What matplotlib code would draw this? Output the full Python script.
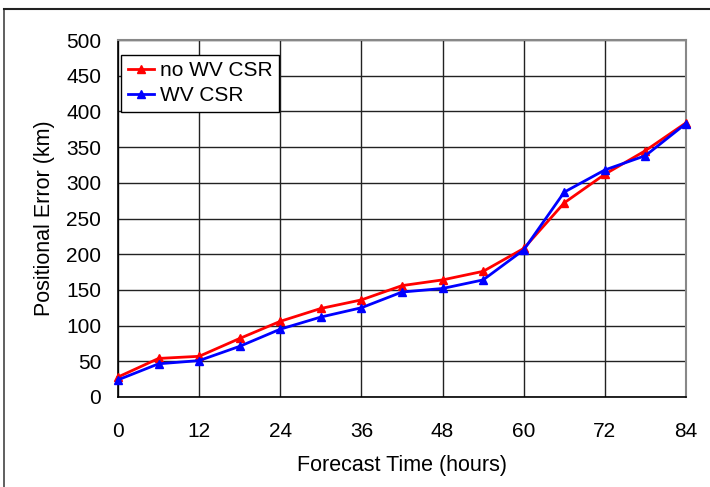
import numpy as np
import matplotlib
matplotlib.use('Agg')
import matplotlib.pyplot as plt
from matplotlib.lines import Line2D

hours = [0, 6, 12, 18, 24, 30, 36, 42, 48, 54, 60, 66, 72, 78, 84]
no_wv_csr = [28, 54, 57, 82, 106, 124, 136, 156, 164, 176, 208, 272, 312, 345, 384]
wv_csr = [24, 46.5, 51, 71, 95, 112, 125, 147, 152, 164, 206, 287, 318, 338, 383]
x_ticks = [0, 12, 24, 36, 48, 60, 72, 84]
y_ticks = [0, 50, 100, 150, 200, 250, 300, 350, 400, 450, 500]

plt.rcParams['font.family'] = ['Liberation Sans', 'DejaVu Sans']

fig = plt.figure(figsize=(7.1, 4.87), dpi=100)
ax = fig.add_axes([118/710, 1-397/487, (686-118)/710, (397-40)/487])

# outer frame lines (left and top)
fig.add_artist(Line2D([4/710, 4/710], [0, 1-9/487], transform=fig.transFigure, color='#444444', lw=1.2))
fig.add_artist(Line2D([4/710, 1], [1-9/487, 1-9/487], transform=fig.transFigure, color='#222222', lw=1.5))

ax.plot(hours, no_wv_csr, color='red', lw=2, marker='^', ms=6, label='no WV CSR', zorder=3, clip_on=False)
ax.plot(hours, wv_csr, color='blue', lw=2, marker='^', ms=6, label='WV CSR', zorder=4, clip_on=False)

ax.set_xlim(0, 84)
ax.set_ylim(0, 500)
ax.set_xticks(x_ticks)
ax.set_yticks(y_ticks)
ax.grid(True, color='#222222', lw=1)
ax.tick_params(length=0, labelsize=15)
ax.tick_params(axis='x', pad=18)
ax.tick_params(axis='y', pad=12)
for s in ['top', 'right']:
    ax.spines[s].set_color('#888888')
    ax.spines[s].set_linewidth(1.5)
for s in ['left', 'bottom']:
    ax.spines[s].set_color('black')
    ax.spines[s].set_linewidth(1.2)

ax.set_xlabel('Forecast Time (hours)', fontsize=15.5, labelpad=10)
ax.set_ylabel('Positional Error (km)', fontsize=15.5, labelpad=8)

leg = ax.legend(loc='upper left', bbox_to_anchor=(0.006, 0.958), fontsize=15, frameon=True,
                fancybox=False, shadow=False, handlelength=1.25, handletextpad=0.3,
                borderpad=0.3, labelspacing=0.3, borderaxespad=0)
leg.get_frame().set_edgecolor('black')
leg.get_frame().set_linewidth(1)
leg.get_frame().set_alpha(1)

fig.savefig('out.png', dpi=100)
